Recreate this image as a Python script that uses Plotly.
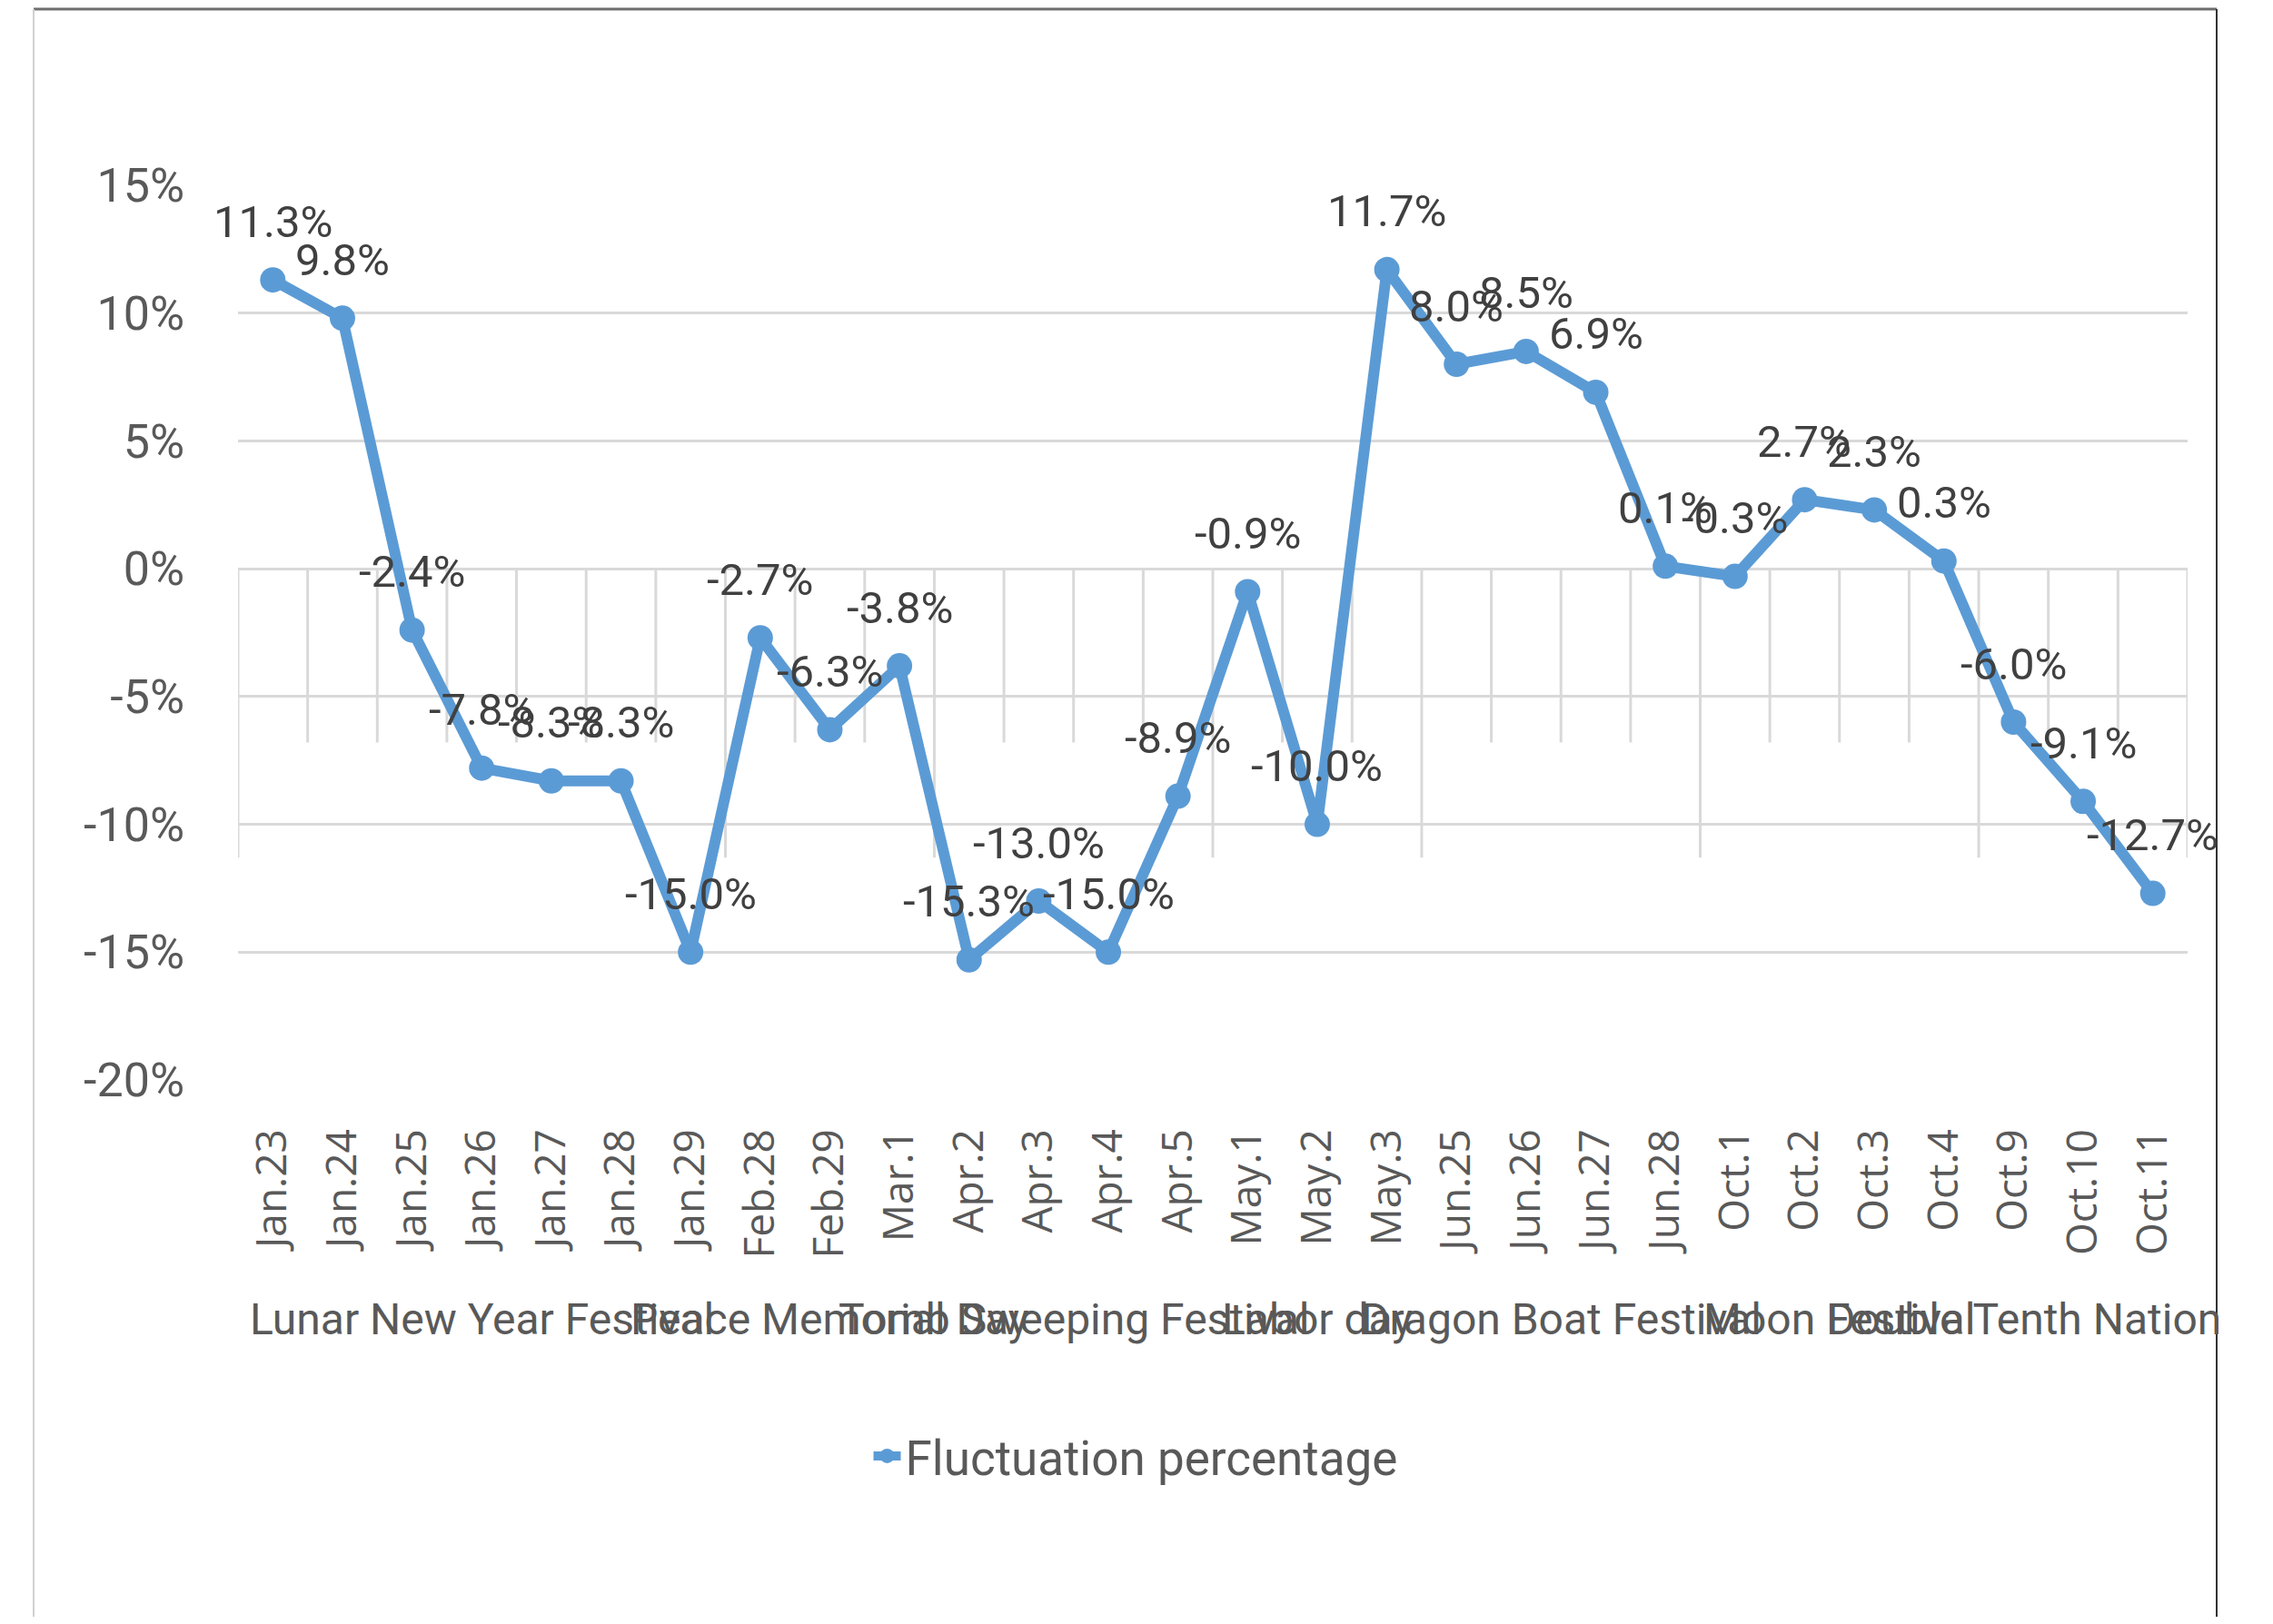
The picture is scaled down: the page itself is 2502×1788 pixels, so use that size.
import plotly.graph_objects as go

# ---------------- data ----------------
categories = ["Jan.23", "Jan.24", "Jan.25", "Jan.26", "Jan.27", "Jan.28", "Jan.29",
              "Feb.28", "Feb.29", "Mar.1",
              "Apr.2", "Apr.3", "Apr.4", "Apr.5",
              "May.1", "May.2", "May.3",
              "Jun.25", "Jun.26", "Jun.27", "Jun.28",
              "Oct.1", "Oct.2", "Oct.3", "Oct.4",
              "Oct.9", "Oct.10", "Oct.11"]
values = [11.3, 9.8, -2.4, -7.8, -8.3, -8.3, -15.0,
          -2.7, -6.3, -3.8,
          -15.3, -13.0, -15.0, -8.9,
          -0.9, -10.0, 11.7,
          8.0, 8.5, 6.9, 0.1,
          -0.3, 2.7, 2.3, 0.3,
          -6.0, -9.1, -12.7]
group_names = ["Lunar New Year Festival", "Peace Memorial Day", "Tomb Sweeping Festival",
               "Labor day", "Dragon Boat Festival", "Moon Festival", "Double Tenth National Day"]
group_sizes = [7, 3, 4, 3, 4, 4, 3]
y_tick_vals = [15, 10, 5, 0, -5, -10, -15, -20]
y_tick_text = ["15%", "10%", "5%", "0%", "-5%", "-10%", "-15%", "-20%"]
series_name = "Fluctuation percentage"

# ---------------- styles / layout ----------------
BLUE = "#5B9BD5"
GRID = "#D9D9D9"
TICK = "#595959"
LABEL = "#404040"
OFF = 8                      # page body margin
W = 2440 - OFF + 2           # figure ends at the frame's right edge
H = 1788 - 2 * OFF
L = 262 - OFF
T = 204 - OFF
R = W - (2408 - OFF)
B = H - (1189 - OFF)
PW, PH = W - L - R, H - T - B


def px_to_paper_x(px):
    return (px - OFF - L) / PW


def px_to_paper_y(py):
    return (H - B - (py - OFF)) / PH


fig = go.Figure()
fig.add_trace(go.Scatter(
    x=categories, y=values, mode="lines+markers", name=series_name,
    line=dict(color=BLUE, width=12),
    marker=dict(color=BLUE, size=28),
    cliponaxis=False,
))

# data labels
for c, v in zip(categories, values):
    fig.add_annotation(x=c, y=v, text=f"{v:.1f}%", showarrow=False,
                       yshift=64, xanchor="center", yanchor="middle",
                       font=dict(family="Roboto", size=49, color=LABEL))

# separators (Excel-style multi-level category axis)
boundaries = []
start = 0
for s in group_sizes:
    boundaries.append(start)
    start += s
boundaries.append(start)
n = len(categories)
for i in range(n + 1):
    is_group = i in boundaries
    fig.add_shape(type="line", xref="x", yref="y",
                  x0=i - 0.5, x1=i - 0.5, y0=0, y1=(-11.3 if is_group else -6.8),
                  line=dict(color=GRID, width=3), layer="below")

# group labels
gy = px_to_paper_y(1452)
for name, b0, s in zip(group_names, boundaries[:-1], group_sizes):
    fig.add_annotation(x=b0 + (s - 1) / 2, xref="x", y=gy, yref="paper",
                       text=name, showarrow=False, xanchor="center", yanchor="middle",
                       font=dict(family="Roboto", size=48, color=TICK))

# frame
fx0, fx1 = px_to_paper_x(37), px_to_paper_x(2440)
fy_top, fy_bot = px_to_paper_y(10), px_to_paper_y(1800)
fig.add_shape(type="line", xref="paper", yref="paper", x0=fx0, x1=fx1, y0=fy_top, y1=fy_top,
              line=dict(color="#6E6E6E", width=3))
fig.add_shape(type="line", xref="paper", yref="paper", x0=fx0, x1=fx0, y0=fy_top, y1=fy_bot,
              line=dict(color="#D0D0D0", width=2))
fig.add_shape(type="line", xref="paper", yref="paper", x0=fx1, x1=fx1, y0=fy_top, y1=fy_bot,
              line=dict(color="#333333", width=2))

fig.update_layout(
    width=W, height=H, autosize=False,
    margin=dict(l=L, r=R, t=T, b=B, pad=0),
    paper_bgcolor="white", plot_bgcolor="white",
    showlegend=True,
    legend=dict(orientation="h", x=px_to_paper_x(1250), xanchor="center",
                y=px_to_paper_y(1603), yanchor="middle",
                font=dict(family="Roboto", size=53, color=TICK),
                bgcolor="rgba(0,0,0,0)"),
    xaxis=dict(type="category", range=[-0.5, n - 0.5], showgrid=False, zeroline=False,
               showline=False, ticks="", tickangle=-90, tickmode="array",
               tickvals=categories, ticktext=categories,
               tickfont=dict(family="Open Sans", size=46, color=TICK),
               ticklabelstandoff=44),
    yaxis=dict(range=[-20, 15], tickmode="array", tickvals=y_tick_vals, ticktext=y_tick_text,
               showgrid=True, gridcolor=GRID, gridwidth=3, zeroline=False, showline=False,
               ticks="", tickfont=dict(family="Roboto", size=52, color=TICK),
               ticklabelstandoff=58),
)

fig.write_html("out.html")
